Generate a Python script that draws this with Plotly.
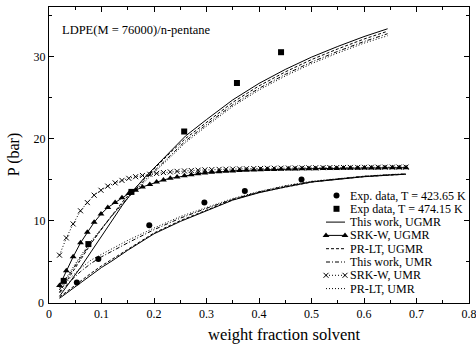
import plotly.graph_objects as go

# ---------------- data ----------------
# Experimental data
exp423_x = [0.053, 0.094, 0.191, 0.296, 0.373, 0.481]
exp423_y = [2.46, 5.33, 9.45, 12.2, 13.6, 15.0]
exp474_x = [0.028, 0.075, 0.157, 0.2575, 0.358, 0.442]
exp474_y = [2.67, 7.15, 13.5, 20.85, 26.75, 30.5]

# Model curves, T = 474.15 K
up_x = [0.02, 0.04, 0.06, 0.08, 0.10, 0.12, 0.14, 0.16, 0.18, 0.20, 0.23, 0.26,
        0.30, 0.35, 0.40, 0.45, 0.50, 0.55, 0.60, 0.645]
up_thiswork_ugmr = [0.8, 2.5, 4.3, 6.2, 8.1, 10.0, 11.9, 13.6, 15.1, 16.4, 18.4, 20.3,
                    22.3, 24.7, 26.7, 28.4, 29.9, 31.2, 32.4, 33.35]
up_prlt_ugmr = [1.3, 3.3, 5.3, 7.2, 9.0, 10.7, 12.3, 13.7, 15.0, 16.2, 18.2, 20.0,
                22.0, 24.4, 26.4, 28.1, 29.6, 30.9, 32.1, 33.05]
up_thiswork_umr = [1.6, 3.6, 5.5, 7.3, 9.0, 10.6, 12.1, 13.5, 14.8, 16.0, 17.9, 19.7,
                   21.7, 24.1, 26.1, 27.8, 29.3, 30.6, 31.8, 32.75]
up_prlt_umr = [1.8, 3.8, 5.7, 7.5, 9.1, 10.6, 12.0, 13.4, 14.6, 15.8, 17.7, 19.5,
               21.5, 23.9, 25.9, 27.6, 29.1, 30.4, 31.6, 32.5]

# Model curves, T = 423.65 K
lo_x = [0.02, 0.04, 0.06, 0.08, 0.10, 0.12, 0.15, 0.20, 0.25, 0.30, 0.35, 0.40,
        0.45, 0.50, 0.55, 0.60, 0.65, 0.68]
lo_thiswork_ugmr = [0.55, 1.5, 2.5, 3.4, 4.3, 5.1, 6.4, 8.4, 9.9, 11.2, 12.5, 13.4,
                    14.1, 14.7, 15.05, 15.35, 15.55, 15.65]
lo_prlt_ugmr = [0.7, 1.7, 2.7, 3.6, 4.5, 5.3, 6.6, 8.5, 10.0, 11.3, 12.55, 13.45,
                14.1, 14.7, 15.05, 15.35, 15.55, 15.65]
lo_thiswork_umr = [1.2, 2.6, 3.8, 4.8, 5.6, 6.3, 7.3, 8.9, 10.3, 11.5, 12.6, 13.5,
                   14.2, 14.75, 15.1, 15.4, 15.6, 15.68]
lo_prlt_umr = [1.6, 3.0, 4.2, 5.2, 5.9, 6.6, 7.6, 9.1, 10.5, 11.6, 12.7, 13.55,
               14.25, 14.8, 15.15, 15.42, 15.62, 15.7]

# SRK-W curves (marker positions)
srk_x = [0.020, 0.033, 0.046, 0.060, 0.073, 0.086, 0.099, 0.112, 0.126, 0.139,
         0.152, 0.165, 0.178, 0.192, 0.205, 0.218, 0.231, 0.244, 0.258, 0.271,
         0.284, 0.297, 0.310, 0.324, 0.337, 0.350, 0.363, 0.376, 0.390, 0.403,
         0.416, 0.429, 0.442, 0.456, 0.469, 0.482, 0.495, 0.508, 0.522, 0.535,
         0.548, 0.561, 0.574, 0.588, 0.601, 0.614, 0.627, 0.640, 0.654, 0.667, 0.680]
srk_ugmr = [2.1, 3.9, 5.6, 7.3, 8.6, 9.8, 10.8, 11.6, 12.2, 12.8,
            13.3, 13.7, 14.1, 14.4, 14.7, 14.95, 15.15, 15.3, 15.45, 15.6,
            15.7, 15.8, 15.88, 15.95, 16.0, 16.05, 16.1, 16.13, 16.16, 16.19,
            16.22, 16.24, 16.26, 16.28, 16.3, 16.31, 16.32, 16.33, 16.34, 16.35,
            16.36, 16.37, 16.38, 16.39, 16.4, 16.41, 16.42, 16.43, 16.44, 16.44, 16.45]
srk_umr = [5.8, 7.9, 9.6, 11.2, 12.2, 13.1, 13.7, 14.2, 14.6, 14.9,
           15.15, 15.35, 15.5, 15.65, 15.75, 15.85, 15.93, 16.0, 16.05, 16.1,
           16.14, 16.18, 16.21, 16.24, 16.26, 16.28, 16.3, 16.32, 16.34, 16.35,
           16.37, 16.38, 16.39, 16.4, 16.41, 16.42, 16.43, 16.44, 16.45, 16.46,
           16.46, 16.47, 16.48, 16.48, 16.49, 16.5, 16.5, 16.51, 16.51, 16.52, 16.52]

x_ticks = [0, 0.1, 0.2, 0.3, 0.4, 0.5, 0.6, 0.7, 0.8]
y_ticks = [0, 10, 20, 30]

legend_labels = ["Exp. data, T = 423.65 K", "Exp data, T = 474.15 K", "This work, UGMR",
                 "SRK-W, UGMR", "PR-LT, UGMR", "This work, UMR", "SRK-W, UMR", "PR-LT, UMR"]

# ---------------- styles ----------------
FONT = "Liberation Serif, Times New Roman, serif"
BLACK = "black"
DASH = "3px,2px"
DOT = "1px,2px"
DASHDOT = "4px,2px,1px,2px"

fig = go.Figure()

def line(x, y, dash):
    fig.add_trace(go.Scatter(x=x, y=y, mode="lines", showlegend=False,
                             line=dict(color=BLACK, width=1, dash=dash)))

for xs, ys in [(up_x, up_thiswork_ugmr), (lo_x, lo_thiswork_ugmr)]:
    line(xs, ys, "solid")
for xs, ys in [(up_x, up_prlt_ugmr), (lo_x, lo_prlt_ugmr)]:
    line(xs, ys, DASH)
for xs, ys in [(up_x, up_thiswork_umr), (lo_x, lo_thiswork_umr)]:
    line(xs, ys, DASHDOT)
for xs, ys in [(up_x, up_prlt_umr), (lo_x, lo_prlt_umr)]:
    line(xs, ys, DOT)

fig.add_trace(go.Scatter(x=srk_x, y=srk_ugmr, mode="lines+markers", showlegend=False,
                         line=dict(color=BLACK, width=1),
                         marker=dict(symbol="triangle-up", size=6, color=BLACK)))
fig.add_trace(go.Scatter(x=srk_x, y=srk_umr, mode="lines+markers", showlegend=False,
                         line=dict(color=BLACK, width=1, dash=DOT),
                         marker=dict(symbol="x-thin", size=5,
                                     line=dict(color=BLACK, width=1))))
fig.add_trace(go.Scatter(x=exp423_x, y=exp423_y, mode="markers", showlegend=False,
                         marker=dict(symbol="circle", size=6, color=BLACK)))
fig.add_trace(go.Scatter(x=exp474_x, y=exp474_y, mode="markers", showlegend=False,
                         marker=dict(symbol="square", size=6, color=BLACK)))

# ---------------- custom legend on a pixel-like overlay axis ----------------
L_X0, L_X1, L_TEXT = 326, 345, 348
L_Y0, L_DY = 195.5, 13.3
legend_styles = [
    dict(mode="markers", marker=dict(symbol="circle", size=6, color=BLACK)),
    dict(mode="markers", marker=dict(symbol="square", size=6, color=BLACK)),
    dict(mode="lines", line=dict(color=BLACK, width=1)),
    dict(mode="lines+markers", line=dict(color=BLACK, width=1),
         marker=dict(symbol="triangle-up", size=6, color=BLACK)),
    dict(mode="lines", line=dict(color=BLACK, width=1, dash=DASH)),
    dict(mode="lines", line=dict(color=BLACK, width=1, dash=DASHDOT)),
    dict(mode="lines+markers", line=dict(color=BLACK, width=1, dash=DOT),
         marker=dict(symbol="x-thin", size=5, line=dict(color=BLACK, width=1))),
    dict(mode="lines", line=dict(color=BLACK, width=1, dash=DOT)),
]
annotations = []
for i, (lab, st) in enumerate(zip(legend_labels, legend_styles)):
    yy = L_Y0 + i * L_DY
    if st["mode"] == "markers":
        xs, ys = [(L_X0 + L_X1) / 2 + 1], [yy]
    else:
        xs, ys = [L_X0, L_X1], [yy, yy]
    fig.add_trace(go.Scatter(x=xs, y=ys, xaxis="x2", yaxis="y2", showlegend=False,
                             hoverinfo="skip", **st))
    annotations.append(dict(x=L_TEXT, y=yy, xref="x2", yref="y2", text=lab,
                            showarrow=False, xanchor="left", yanchor="middle",
                            font=dict(family=FONT, size=12, color=BLACK)))

annotations.append(dict(x=0.021, y=33.2, xref="x", yref="y", text="LDPE(M = 76000)/n-pentane",
                        showarrow=False, xanchor="left", yanchor="middle",
                        font=dict(family=FONT, size=12.5, color=BLACK)))
annotations.append(dict(x=-0.083, y=0.50, xref="paper", yref="paper", text="P (bar)",
                        showarrow=False, textangle=-90, xanchor="center", yanchor="middle",
                        font=dict(family=FONT, size=16, color=BLACK)))
annotations.append(dict(x=0.56, y=-0.1453, xref="paper", yref="paper",
                        text="weight fraction solvent", showarrow=False,
                        xanchor="center", yanchor="bottom",
                        font=dict(family=FONT, size=16.5, color=BLACK)))
# y-axis "0" label (Plotly drops it at the axis corner)
annotations.append(dict(x=-0.006, y=0.0, xref="paper", yref="paper",
                        text="0", showarrow=False,
                        xanchor="right", yanchor="middle",
                        font=dict(family=FONT, size=12, color=BLACK)))

axis_common = dict(showgrid=False, zeroline=False, showline=True, linecolor=BLACK,
                   linewidth=1, mirror="allticks", ticks="inside", tickcolor=BLACK,
                   tickwidth=1, ticklen=5, ticklabeloverflow="allow", automargin=False,
                   tickfont=dict(family=FONT, size=12, color=BLACK))

fig.update_layout(
    width=476, height=346,
    margin=dict(l=49, r=7, t=7, b=43, pad=0, autoexpand=False),
    paper_bgcolor="white", plot_bgcolor="white",
    font=dict(family=FONT, color=BLACK),
    showlegend=False,
    xaxis=dict(range=[-0.00001, 0.80001], tickvals=x_ticks,
               ticktext=[str(v) for v in x_ticks],
               minor=dict(dtick=0.05, ticks="inside", ticklen=3, tickcolor=BLACK),
               **axis_common),
    yaxis=dict(range=[-0.02, 36], tickvals=y_ticks[1:], ticktext=[str(v) for v in y_ticks[1:]],
               minor=dict(dtick=5, ticks="inside", ticklen=3, tickcolor=BLACK),
               **axis_common),
    xaxis2=dict(range=[49, 469], overlaying="x", visible=False, fixedrange=True),
    yaxis2=dict(range=[303, 7], overlaying="y", visible=False, fixedrange=True),
    annotations=annotations,
)

fig.write_html("out.html")
